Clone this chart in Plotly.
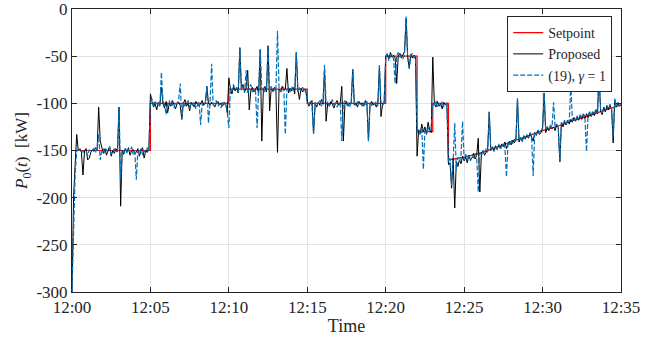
import plotly.graph_objects as go

# ---------------- data ----------------
# sampling times in minutes after 12:00 (0.1-min grid, 0 .. 35)
sample_minutes = [i / 10 for i in range(351)]

setpoint_t = [0, 5, 5, 10, 10, 15, 15, 20, 20, 22, 22, 23, 23, 24, 24,
              25, 26, 27, 28, 29, 30, 31, 32, 33, 34, 35]
setpoint_v = [-150, -150, -100, -100, -85, -85, -100, -100, -50, -50, -130, -130,
              -100, -100, -160, -157, -153, -147, -141, -135, -129, -124, -118,
              -113, -107, -102]

proposed_a = [-300, -200, -165, -133, -150, -148, -152, -176, -150, -148,
              -160, -158, -152, -149, -151, -147, -150, -104, -140, -147,
              -153, -148, -155, -150, -146, -156, -150, -153, -148, -151,
              -104, -209, -150, -154, -148, -152, -147, -155, -150, -149,
              -153, -152, -148, -156, -150, -147, -158, -150, -152, -149]
proposed_b = [-90, -98, -104, -100, -107, -99, -102, -83, -100, -105,
              -98, -110, -100, -103, -97, -101, -106, -100, -99, -102,
              -117, -100, -96, -103, -100, -108, -99, -101, -104, -98,
              -100, -103, -100, -97, -102, -100, -82, -100, -102, -99,
              -101, -104, -100, -98, -102, -100, -103, -99, -101, -110]
proposed_c = [-73, -85, -90, -82, -87, -84, -89, -41, -85, -80,
              -88, -84, -65, -107, -86, -83, -88, -85, -82, -90,
              -43, -140, -85, -82, -88, -39, -108, -84, -87, -83,
              -86, -152, -85, -88, -82, -86, -85, -63, -89, -84,
              -87, -83, -90, -46, -85, -96, -84, -88, -85, -86]
proposed_d = [-98, -103, -100, -97, -132, -100, -104, -99, -102, -96,
              -101, -64, -119, -100, -103, -98, -101, -105, -100, -97,
              -102, -100, -82, -140, -101, -98, -103, -100, -99, -64,
              -102, -100, -104, -98, -101, -100, -103, -97, -100, -140,
              -101, -98, -102, -100, -104, -99, -60, -114, -101, -99]
proposed_e = [-50, -48, -53, -46, -51, -49, -52, -79, -50, -47,
              -52, -49, -45, -10, -50, -63, -48, -52, -49, -51]
proposed_f = [-156, -128, -132, -122, -130, -125, -133, -120, -128, -131]
proposed_g = [-51, -100, -104, -98, -103, -100, -106, -99, -102, -100]
proposed_h = [-165, -163, -190, -158, -211, -162, -167, -160, -164, -156,
              -161, -157, -163, -155, -160, -158, -153, -159, -155, -137,
              -194, -153, -150, -155, -151, -149, -109, -150, -146, -150,
              -145, -149, -144, -147, -143, -146, -141, -148, -142, -140,
              -144, -139, -142, -138, -95, -141, -137, -140, -135, -138,
              -134, -137, -132, -136, -140, -131, -134, -129, -133, -131,
              -127, -89, -131, -126, -129, -124, -127, -125, -129, -123,
              -126, -162, -121, -125, -119, -123, -118, -122, -117, -120,
              -115, -119, -114, -118, -113, -117, -112, -116, -111, -115,
              -110, -114, -109, -113, -107, -111, -70, -108, -112, -104,
              -109, -103, -107, -102, -106, -142, -96, -104, -100, -103,
              -101]

gamma1_a = [-300, -230, -175, -150, -149, -151, -150, -152, -150, -151,
            -155, -149, -151, -150, -148, -152, -147, -133, -160, -150,
            -148, -153, -149, -151, -146, -154, -150, -148, -152, -150,
            -104, -180, -150, -152, -147, -153, -149, -151, -146, -154,
            -150, -181, -150, -153, -148, -155, -150, -152, -147, -151]
gamma1_b = [-100, -95, -103, -98, -102, -100, -104, -67, -98, -101,
            -112, -100, -97, -103, -100, -105, -99, -101, -96, -79,
            -117, -99, -103, -100, -97, -104, -100, -102, -99, -106,
            -101, -98, -123, -100, -103, -99, -82, -121, -100, -58,
            -102, -100, -97, -103, -100, -105, -99, -101, -100, -110]
gamma1_c = [-126, -84, -87, -80, -86, -83, -88, -41, -86, -82,
            -89, -65, -90, -84, -80, -88, -85, -87, -126, -84,
            -43, -86, -83, -88, -85, -39, -86, -82, -88, -85,
            -87, -23, -84, -88, -85, -83, -133, -86, -84, -88,
            -82, -86, -85, -46, -88, -84, -86, -83, -87, -85]
gamma1_d = [-100, -101, -97, -103, -133, -99, -102, -100, -97, -103,
            -100, -59, -101, -98, -103, -100, -96, -102, -100, -104,
            -99, -101, -140, -100, -97, -102, -100, -104, -99, -64,
            -100, -102, -98, -101, -100, -103, -99, -101, -97, -140,
            -100, -102, -99, -101, -98, -103, -60, -100, -102, -100]
gamma1_e = [-52, -47, -55, -50, -48, -53, -79, -50, -46, -51,
            -49, -53, -48, -8, -52, -62, -49, -47, -52, -50]
gamma1_f = [-131, -128, -134, -126, -170, -128, -132, -125, -130, -127]
gamma1_g = [-100, -102, -97, -104, -100, -103, -98, -104, -101, -100]
gamma1_h = [-162, -158, -187, -160, -121, -170, -157, -162, -155, -119,
            -160, -154, -159, -156, -161, -155, -158, -153, -157, -194,
            -152, -155, -151, -153, -148, -152, -109, -149, -147, -151,
            -146, -148, -143, -149, -145, -142, -147, -178, -141, -144,
            -139, -143, -138, -141, -95, -139, -136, -141, -134, -137,
            -133, -136, -131, -135, -177, -130, -133, -128, -132, -129,
            -126, -89, -128, -125, -127, -123, -126, -99, -125, -122,
            -125, -162, -120, -123, -118, -122, -117, -120, -78, -119,
            -116, -118, -113, -117, -112, -115, -111, -114, -151, -112,
            -109, -113, -108, -111, -106, -110, -67, -107, -110, -104,
            -107, -102, -106, -101, -105, -135, -95, -103, -99, -102,
            -100]

proposed = (proposed_a + proposed_b + proposed_c + proposed_d + proposed_e
            + proposed_f + proposed_g + proposed_h)
gamma1 = (gamma1_a + gamma1_b + gamma1_c + gamma1_d + gamma1_e
          + gamma1_f + gamma1_g + gamma1_h)
assert len(proposed) == len(sample_minutes) == len(gamma1)

x_tick_vals = [0, 5, 10, 15, 20, 25, 30, 35]
x_tick_text = ["12:00", "12:05", "12:10", "12:15", "12:20", "12:25", "12:30", "12:35"]
y_tick_vals = [0, -50, -100, -150, -200, -250, -300]
y_tick_text = ["0", "-50", "-100", "-150", "-200", "-250", "-300"]

# ---------------- figure ----------------
FONT = "Liberation Serif"
fig = go.Figure()
fig.add_trace(go.Scatter(x=setpoint_t, y=setpoint_v, mode="lines", name="Setpoint",
                         line=dict(color="#ff0000", width=1.2)))
fig.add_trace(go.Scatter(x=sample_minutes, y=proposed, mode="lines", name="Proposed",
                         line=dict(color="#000000", width=1)))
fig.add_trace(go.Scatter(x=sample_minutes, y=gamma1, mode="lines",
                         name="(19), <i>γ</i> = 1",
                         line=dict(color="#0072bd", width=1.2, dash="5px,2px")))

axis_common = dict(showline=True, linecolor="#262626", linewidth=1, mirror="allticks",
                   ticks="inside", ticklen=5, tickcolor="#262626",
                   showgrid=True, gridcolor="#e3e3e3", gridwidth=1, zeroline=False,
                   ticklabeloverflow="allow", automargin=False,
                   tickfont=dict(family=FONT, size=17, color="#262626"))

fig.update_layout(
    width=661, height=341,
    margin=dict(l=72, r=40, t=9, b=49),
    paper_bgcolor="white", plot_bgcolor="white",
    font=dict(family=FONT, size=15, color="#262626"),
    showlegend=True,
    legend=dict(x=0.984, y=0.975, xanchor="right", yanchor="top",
                bgcolor="white", bordercolor="#262626", borderwidth=1,
                font=dict(family=FONT, size=14, color="#262626"),
                itemwidth=30, tracegroupgap=0),
)
fig.update_xaxes(range=[0, 35], tickvals=x_tick_vals, ticktext=x_tick_text,
                 title=dict(text="Time", font=dict(family=FONT, size=18, color="#262626"),
                            standoff=2),
                 **axis_common)
fig.update_yaxes(range=[-300, 0], tickvals=y_tick_vals, ticktext=y_tick_text,
                 title=dict(text="<i>P</i><sub>0</sub>(<i>t</i>)\u00a0\u00a0[kW]",
                            font=dict(family=FONT, size=17, color="#262626"),
                            standoff=4),
                 **axis_common)

fig.write_html("out.html")
